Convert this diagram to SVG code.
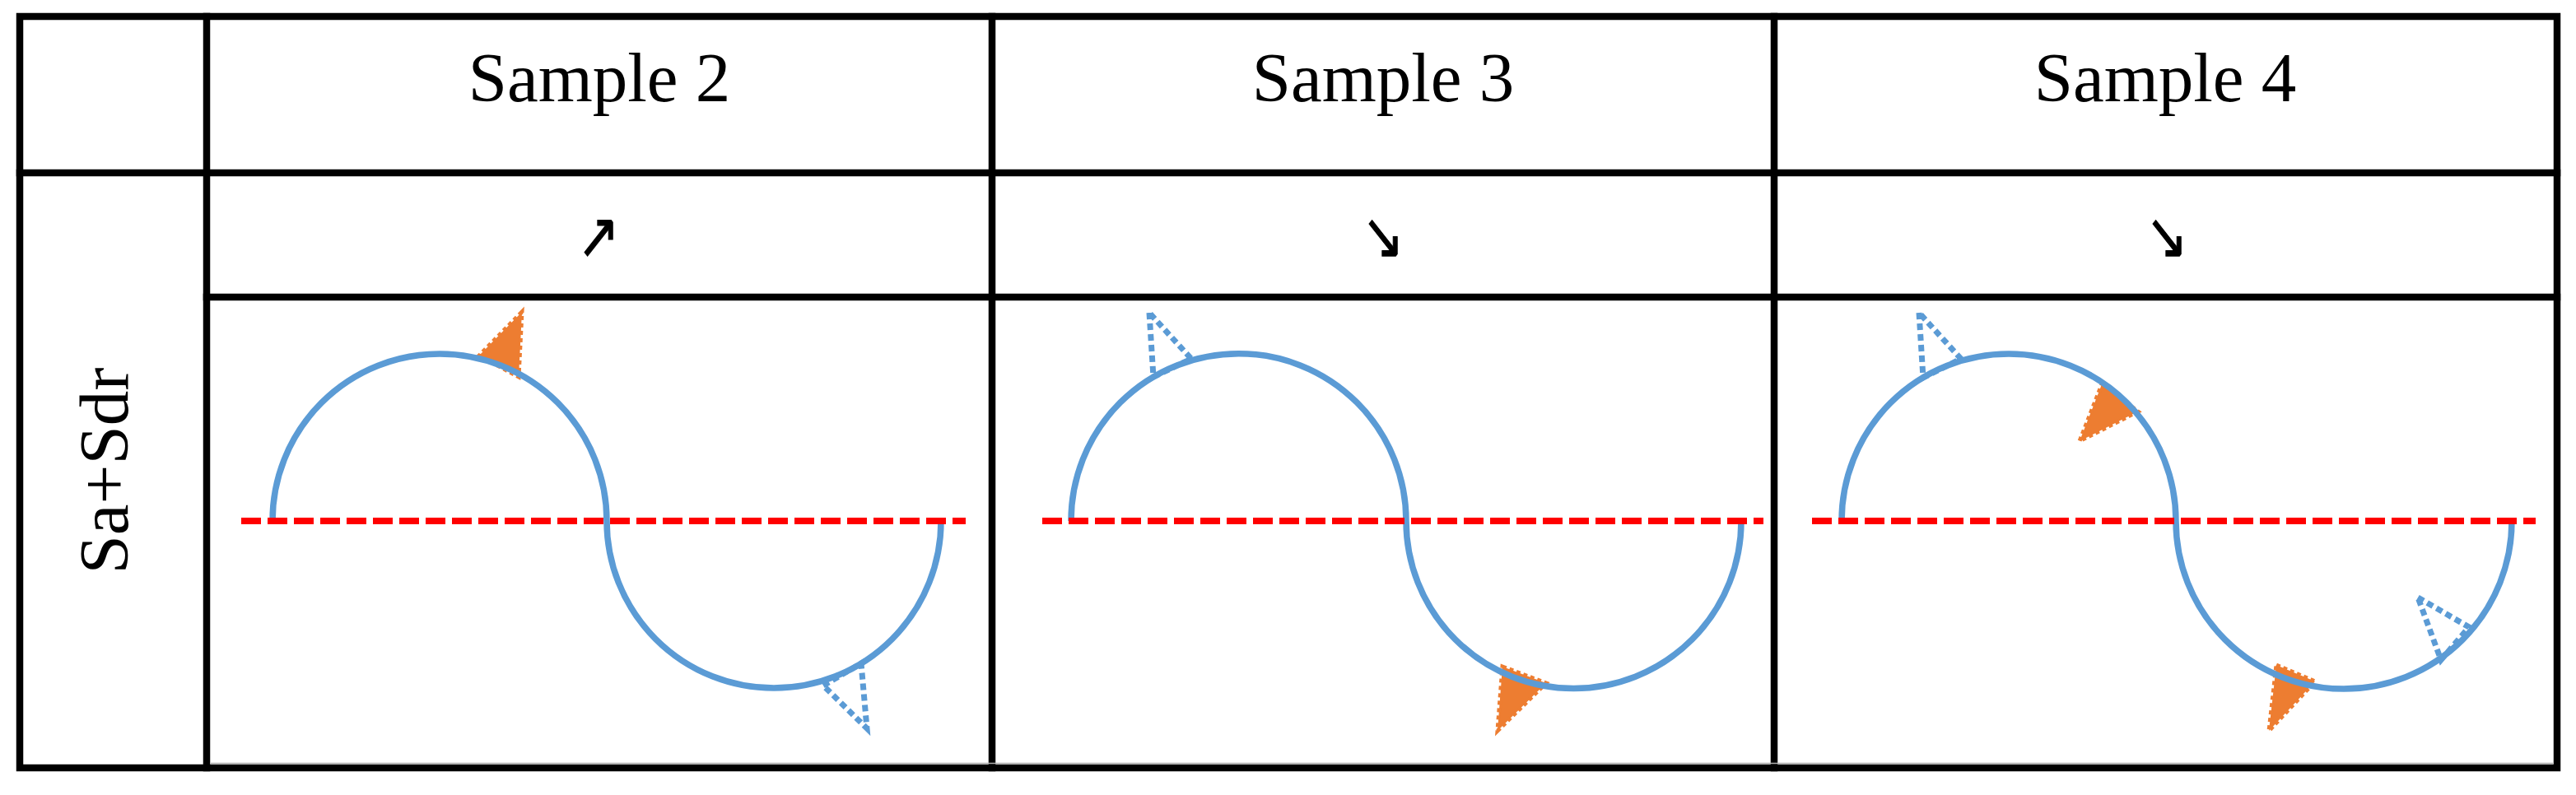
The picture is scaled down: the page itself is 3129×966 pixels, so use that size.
<svg xmlns="http://www.w3.org/2000/svg" width="3129" height="966" viewBox="0 0 3129 966">
<style>
.grid{stroke:#000;stroke-width:8.5;fill:none;stroke-linecap:square}
.hdr{font-family:"Liberation Serif","DejaVu Serif",serif;font-size:85px;fill:#000;text-anchor:middle}
.arr{font-family:"DejaVu Sans",sans-serif;font-size:76px;fill:#000;text-anchor:middle;stroke:#000;stroke-width:1.2}
.wave{fill:none;stroke:#5B9BD5;stroke-width:7.5}
.axis{stroke:#FF0000;stroke-width:8;stroke-dasharray:24 8;fill:none}
.tri-o{fill:#ED7D31;stroke:#ED7D31;stroke-width:5;stroke-dasharray:5 4}
.tri-b{fill:none;stroke:#5B9BD5;stroke-width:7;stroke-dasharray:8 5}
</style>
<rect x="0" y="0" width="3129" height="966" fill="#fff"/>
<g id="table">
<rect class="grid" x="24" y="20" width="3082" height="913"/>
<line class="grid" x1="24" y1="210" x2="3106" y2="210"/>
<line class="grid" x1="251" y1="361" x2="3106" y2="361"/>
<line class="grid" x1="251" y1="20" x2="251" y2="933"/>
<line class="grid" x1="1205" y1="20" x2="1205" y2="933"/>
<line class="grid" x1="2155" y1="20" x2="2155" y2="933"/>
<line x1="256" y1="927.5" x2="3101" y2="927.5" stroke="#b0b0b0" stroke-width="1.5"/>
</g>
<g id="header-sample2"><text class="hdr" x="728" y="123">Sample 2</text></g>
<g id="header-sample3"><text class="hdr" x="1680" y="123">Sample 3</text></g>
<g id="header-sample4"><text class="hdr" x="2630" y="123">Sample 4</text></g>
<g id="row-label"><text class="hdr" font-size="80" transform="translate(155,572) rotate(-90)">Sa+Sdr</text></g>
<g id="trend-sample2"><text class="arr" transform="translate(727,313) scale(0.8,1.02)">↗</text></g>
<g id="trend-sample3"><text class="arr" transform="translate(1680,313) scale(0.8,1.02)">↘</text></g>
<g id="trend-sample4"><text class="arr" transform="translate(2632,313) scale(0.8,1.02)">↘</text></g>
<g id="plot-sample2">
<polygon class="tri-o" points="634,379 582,432 630,458"/>
<polygon class="tri-b" points="1000,833 1046,806 1053,885"/>
<path class="wave" d="M331,633 A203,203 0 0 1 737,633 A203,203 0 0 0 1143,633"/>
<line class="axis" x1="293" y1="633" x2="1173" y2="633"/>
</g>
<g id="plot-sample3">
<polygon class="tri-b" points="1396,380 1401,458 1447,436"/>
<polygon class="tri-o" points="1825,810 1878,830 1819,888"/>
<path class="wave" d="M1301,633 A203.5,203.5 0 0 1 1708,633 A203.5,203.5 0 0 0 2115,633"/>
<line class="axis" x1="1266" y1="633" x2="2142" y2="633"/>
</g>
<g id="plot-sample4">
<polygon class="tri-b" points="2331,380 2336,459 2382,436"/>
<polygon class="tri-o" points="2553,467 2597,500 2526,536"/>
<polygon class="tri-b" points="2937,726 2999,762 2965,802"/>
<polygon class="tri-o" points="2765,808 2812,828 2756,888"/>
<path class="wave" d="M2237,633 A203,203 0 0 1 2643,633 A204,204 0 0 0 3051,633"/>
<line class="axis" x1="2201" y1="633" x2="3080" y2="633"/>
</g>
</svg>
